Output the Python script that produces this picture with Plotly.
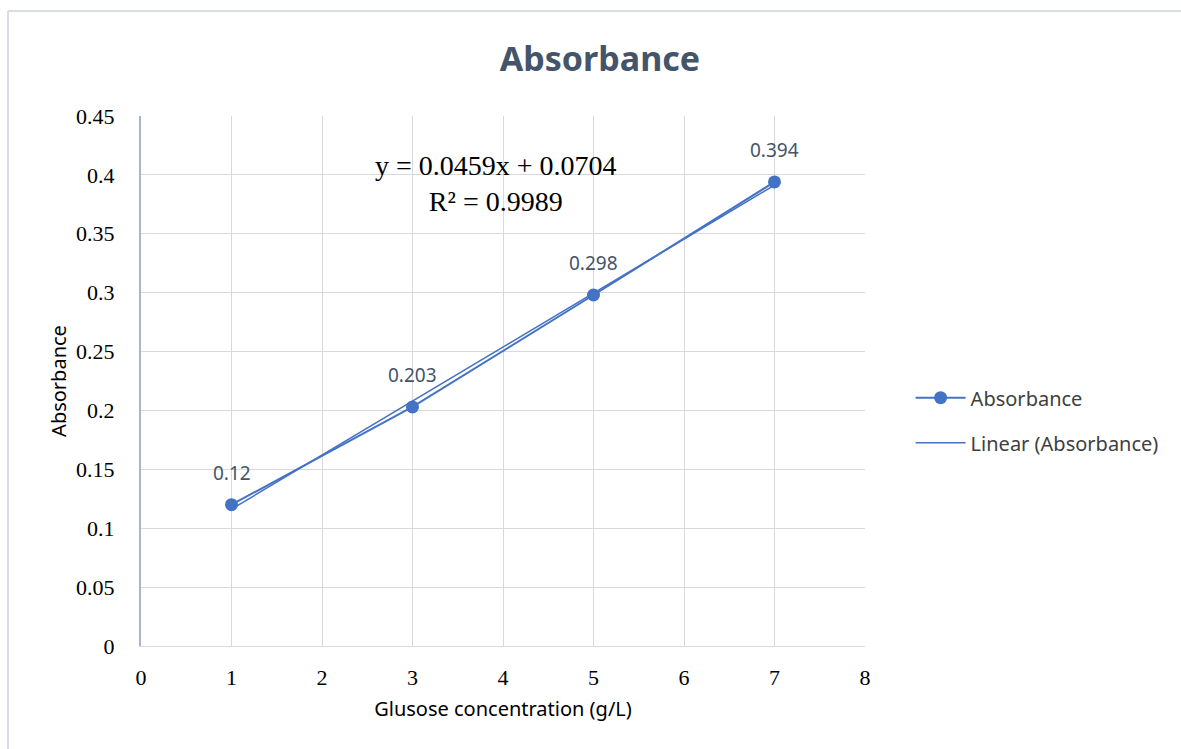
from decimal import Decimal, ROUND_HALF_UP

import numpy as np
import plotly.graph_objects as go

# Glucose calibration data
concentration = [1, 3, 5, 7]
absorbance = [0.12, 0.203, 0.298, 0.394]
x_ticks = [0, 1, 2, 3, 4, 5, 6, 7, 8]
y_ticks = [0, 0.05, 0.1, 0.15, 0.2, 0.25, 0.3, 0.35, 0.4, 0.45]

BLUE = "#4472C4"
TEXT = "#44546A"
SANS = "Noto Sans, Open Sans, sans-serif"
SERIF = "Liberation Serif, Times New Roman, serif"


def fmt4(v):
    """Four decimals, rounding halves up."""
    return str(Decimal(str(round(float(v), 10))).quantize(Decimal("0.0001"), rounding=ROUND_HALF_UP))


# Least-squares trendline over the measured range
slope, intercept = np.polyfit(concentration, absorbance, 1)
fit_y = [float(slope * c + intercept) for c in concentration]
r2 = 1 - np.sum((np.array(absorbance) - np.array(fit_y)) ** 2) / np.sum(
    (np.array(absorbance) - np.mean(absorbance)) ** 2)

fig = go.Figure()
fig.add_trace(go.Scatter(
    x=concentration, y=absorbance, mode="lines+markers",
    name="Absorbance", legendgroup="data",
    line=dict(color=BLUE, width=2),
    marker=dict(color=BLUE, size=13),
))
fig.add_trace(go.Scatter(
    x=concentration, y=fit_y, mode="lines", name="Linear (Absorbance)",
    legendgroup="trend",
    line=dict(color=BLUE, width=1.5),
))

# Data labels above each point
for cx, cy in zip(concentration, absorbance):
    fig.add_annotation(x=cx, y=cy, xref="x", yref="y", showarrow=False,
                       text=f"{cy:g}", yshift=32, yanchor="middle",
                       font=dict(family=SANS, size=19, color=TEXT))

fig.add_annotation(
    x=3.92, y=0.393, xref="x", yref="y", showarrow=False,
    text=f"y = {fmt4(slope)}x + {fmt4(intercept)}<br>R² = {fmt4(r2)}",
    font=dict(family=SERIF, size=28, color="#000000"),
    align="center", yanchor="middle",
)

# Outer chart border (left and top edges)
fig.add_shape(type="line", xref="paper", yref="paper",
              x0=-0.1837, x1=-0.1837, y0=1.198, y1=-0.2,
              line=dict(color="#D9DCE3", width=2))
fig.add_shape(type="line", xref="paper", yref="paper",
              x0=-0.1837, x1=1.44, y0=1.198, y1=1.198,
              line=dict(color="#D9DCE3", width=2))

fig.update_layout(
    width=1181, height=749,
    margin=dict(l=141, r=316, t=116, b=103),
    paper_bgcolor="white", plot_bgcolor="white",
    title=dict(text="<b>Absorbance</b>", x=0.508, xanchor="center",
               y=0.921, yanchor="middle",
               font=dict(family=SANS, size=34, color=TEXT)),
    showlegend=True,
    legend=dict(x=1.063, y=0.426, xanchor="left", yanchor="middle",
                font=dict(family=SANS, size=20, color="#404040"),
                tracegroupgap=16, itemwidth=50, bgcolor="rgba(0,0,0,0)"),
    xaxis=dict(range=[0, 8], tickvals=x_ticks, showgrid=True, gridcolor="#D9D9D9",
               gridwidth=1, zeroline=False, showline=True, linecolor="#D9D9D9",
               linewidth=1, ticks="outside", ticklen=12, tickcolor="rgba(0,0,0,0)",
               tickfont=dict(family=SERIF, size=22, color="#000000"),
               title=dict(text="Glusose concentration (g/L)", standoff=12,
                          font=dict(family=SANS, size=20, color="#000000"))),
    yaxis=dict(range=[0, 0.45], tickvals=y_ticks,
               ticktext=[f"{v:g}" for v in y_ticks],
               showgrid=True, gridcolor="#D9D9D9", gridwidth=1, zeroline=False,
               showline=True, linecolor="#A9B5CB", linewidth=2,
               ticks="outside", ticklen=20, tickcolor="rgba(0,0,0,0)",
               tickfont=dict(family=SERIF, size=22, color="#000000"),
               title=dict(text="Absorbance", standoff=4,
                          font=dict(family=SANS, size=20, color="#000000"))),
)

fig.write_html("out.html")
